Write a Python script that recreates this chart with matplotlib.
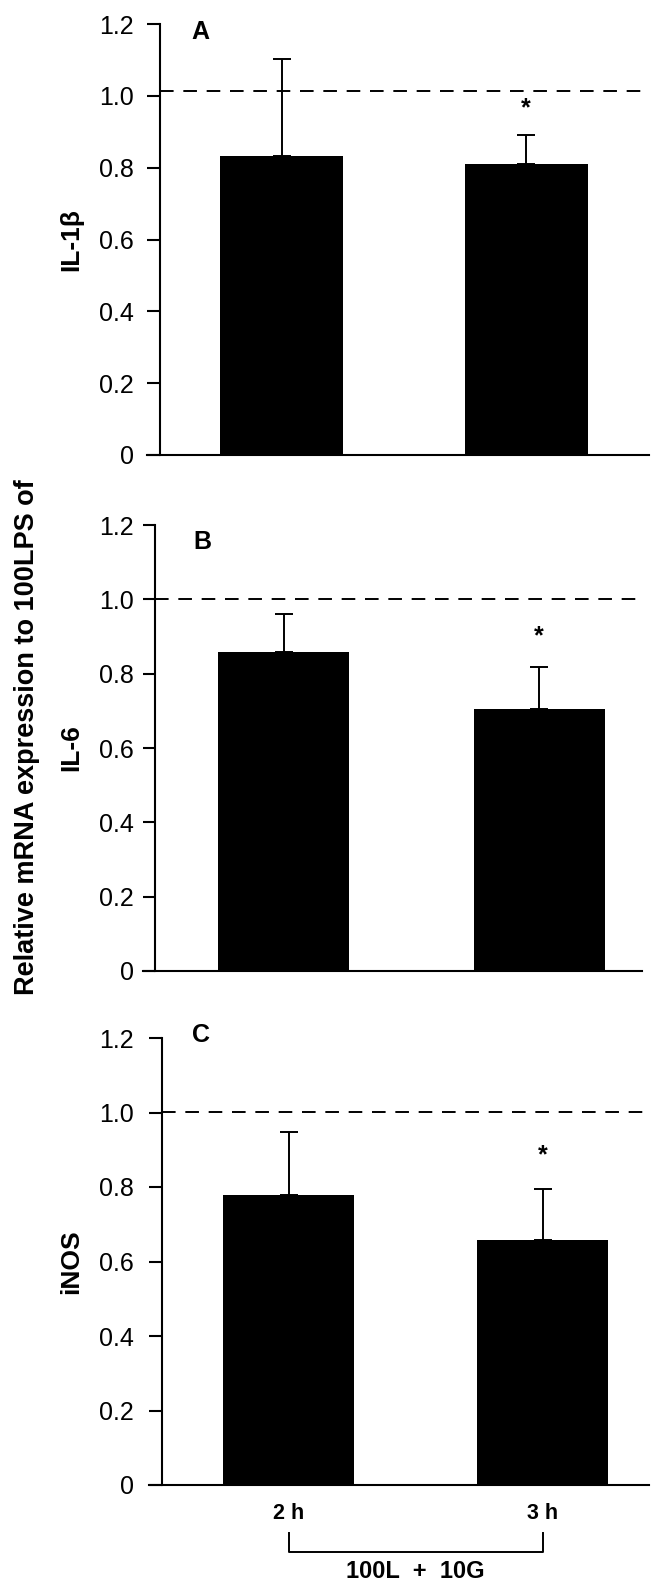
import matplotlib
matplotlib.use('Agg')
import matplotlib.pyplot as plt
import numpy as np

plt.rcParams['font.family'] = ['Liberation Sans', 'DejaVu Sans']

# data
conditions = ['2 h', '3 h']
panel_letters = ['A', 'B', 'C']
genes = ['IL-1β', 'IL-6', 'iNOS']
il1b_mean = [0.833, 0.810]
il1b_err = [0.270, 0.081]
il6_mean = [0.859, 0.706]
il6_err = [0.102, 0.113]
inos_mean = [0.779, 0.658]
inos_err = [0.169, 0.137]
reference_level = [1.014, 1.000, 1.002]
star_level = [0.964, 0.900, 0.886]
yticks = [0, 0.2, 0.4, 0.6, 0.8, 1.0, 1.2]
ytick_labels = ['0', '0.2', '0.4', '0.6', '0.8', '1.0', '1.2']
treatment_label = '100L  +  10G'
ylabel = 'Relative mRNA expression to 100LPS of'

means = [il1b_mean, il6_mean, inos_mean]
errs = [il1b_err, il6_err, inos_err]

W, H, DPI = 666, 1593, 100
PT = 72.0 / DPI  # points per pixel

# pixel layout of each panel (left end of x axis, y spine, right end, top, bottom,
# bar centres, bar width) and panel letter position
layout = [
    dict(left=147, axis=160, right=649, top=24, bottom=455, c1=281.5, c2=526, bw=123, letter=(-0.33, 1.179)),
    dict(left=143, axis=155, right=642, top=525, bottom=971, c1=283.5, c2=539, bw=131, letter=(-0.319, 1.153)),
    dict(left=149, axis=162, right=649, top=1038, bottom=1485, c1=288.5, c2=542.5, bw=131, letter=(-0.344, 1.208)),
]
label_right = 134  # right edge of the y tick labels

fig = plt.figure(figsize=(W / DPI, H / DPI), dpi=DPI)

for i, lay in enumerate(layout):
    ax = fig.add_axes([lay['left'] / W, 1 - lay['bottom'] / H,
                       (lay['right'] - lay['left']) / W, (lay['bottom'] - lay['top']) / H])
    s = lay['c2'] - lay['c1']
    x0 = (lay['left'] - lay['c1']) / s
    x1 = (lay['right'] - lay['c1']) / s
    xs = (lay['axis'] - lay['c1']) / s
    ax.set_xlim(x0, x1)
    ax.set_ylim(0, 1.2)

    x = np.arange(len(conditions))
    ax.bar(x, means[i], width=lay['bw'] / s, color='black', edgecolor='none', zorder=2)
    ax.errorbar(x, means[i], yerr=[np.zeros(len(x)), errs[i]], fmt='none', ecolor='black',
                elinewidth=1.4, capsize=6.5, capthick=1.4, zorder=3)
    ax.axhline(reference_level[i], xmin=(xs - x0) / (x1 - x0), xmax=1, color='black',
               lw=1.4, ls=(0, (7, 5)), zorder=1)
    ax.text(1, star_level[i], '*', ha='center', va='center', fontsize=18, fontweight='bold')
    ax.text(*lay['letter'], panel_letters[i], ha='center', va='center', fontsize=18, fontweight='bold')

    for side in ['top', 'right']:
        ax.spines[side].set_visible(False)
    ax.spines['left'].set_position(('data', xs))
    ax.spines['left'].set_linewidth(1.5)
    ax.spines['bottom'].set_linewidth(1.5)

    ax.set_yticks(yticks, labels=ytick_labels)
    ax.tick_params(axis='y', length=(lay['axis'] - lay['left']) * PT, width=1.5,
                   pad=(lay['left'] - label_right) * PT, labelsize=18)
    if i == len(layout) - 1:
        ax.set_xticks(x, labels=conditions)
        ax.tick_params(axis='x', length=0, pad=13, labelsize=15.5)
        for lab in ax.get_xticklabels():
            lab.set_fontweight('bold')
        ax.plot([0, 0, 1, 1], [-0.129, -0.180, -0.180, -0.129], color='black', lw=1.4,
                clip_on=False)
        ax.text(0.5, -0.231, treatment_label, ha='center', va='center', fontsize=17,
                fontweight='bold')
    else:
        ax.set_xticks([])

    ymid = 1 - (lay['top'] + lay['bottom']) / 2 / H
    fig.text(71 / W, ymid, genes[i], rotation=90, ha='center', va='center',
             fontsize=19, fontweight='bold')

fig.text(27 / W, 1 - 737 / H, ylabel, rotation=90, ha='center', va='center',
         fontsize=19.5, fontweight='bold')

fig.savefig('out.png', dpi=DPI)
